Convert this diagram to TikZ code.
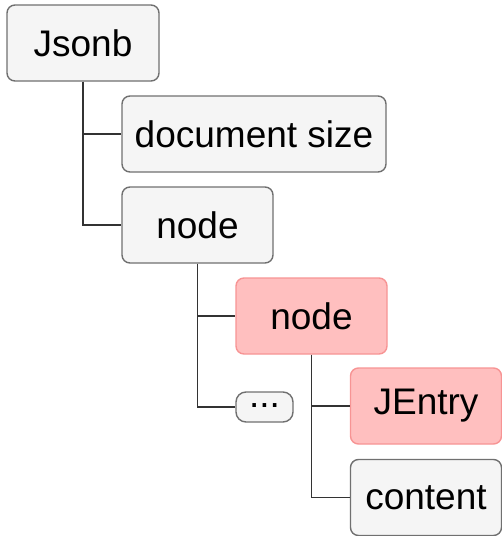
\documentclass[tikz,border=0pt]{standalone}
\usepackage{fontspec}
\setmainfont{Liberation Sans}
\definecolor{boxfill}{HTML}{F5F5F5}
\definecolor{boxline}{HTML}{707070}
\definecolor{redfill}{HTML}{FFBFBF}
\definecolor{redline}{HTML}{F79494}
\definecolor{conn}{HTML}{333333}
\begin{document}
\begin{tikzpicture}[x=1pt,y=-1pt,
  treebox/.style={draw=boxline,fill=boxfill,line width=1.4pt,rounded corners=8pt,
    minimum height=76pt,inner sep=0pt,font=\fontsize{37}{42}\selectfont},
  redbox/.style={treebox,draw=redline,fill=redfill},
  dotsbox/.style={draw=boxline,fill=boxfill,line width=1.4pt,rounded corners=10pt,
    minimum width=57pt,minimum height=30pt,inner sep=0pt,font=\fontsize{37}{42}\selectfont},
  link/.style={draw=conn,line width=1.1pt}]
\useasboundingbox (0,0) rectangle (502,536);
\node[treebox,minimum width=152pt] (jsonb) at (83,43) {Jsonb};
\node[treebox,minimum width=264pt] (docsize) at (254,134) {document size};
\node[treebox,minimum width=151pt] (node1) at (197.5,225) {node};
\node[redbox,minimum width=151pt] (node2) at (311.5,316) {node};
\node[dotsbox] (dots) at (264.5,407) {\raisebox{-1pt}{\smash{...}}};
\node[redbox,minimum width=151pt] (jentry) at (426,406) {JEntry};
\node[treebox,minimum width=151pt] (content) at (426,497.5) {content};
\draw[link] (jsonb.south) |- (docsize.west);
\draw[link] (jsonb.south) |- (node1.west);
\draw[link] (node1.south) |- (node2.west);
\draw[link] (node1.south) |- (dots.west);
\draw[link] (node2.south) |- (jentry.west);
\draw[link] (node2.south) |- (content.west);
\end{tikzpicture}
\end{document}
